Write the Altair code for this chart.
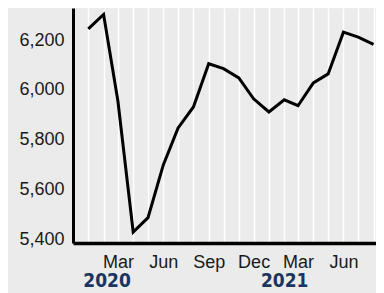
import altair as alt
import pandas as pd

months = pd.date_range("2020-01-01", "2021-08-01", freq="MS")
values = [6245, 6303, 5955, 5428, 5486, 5698, 5847, 5931, 6105, 6085, 6048, 5964,
          5911, 5960, 5936, 6028, 6064, 6232, 6212, 6183]
year_labels = ["2020", "2021"]
year_pos = pd.to_datetime(["2020-02-08", "2021-02-02"])

df = pd.DataFrame({"date": months, "value": values})
ydf = pd.DataFrame({"date": year_pos, "label": year_labels})

BG = "#ebebeb"
xscale = alt.Scale(domain=[alt.DateTime(year=2019, month=12, date=1),
                           alt.DateTime(year=2021, month=8, date=6)])
yscale = alt.Scale(domain=[5384, 6329], nice=False, zero=False)

line = alt.Chart(df).mark_line(color="black", strokeWidth=3, clip=False).encode(
    x=alt.X("date:T", scale=xscale, title=None,
            axis=alt.Axis(tickCount={"interval": "month", "step": 1},
                          labelExpr="(month(datum.value) % 3 == 2) && (year(datum.value) >= 2020) ? timeFormat(datum.value, '%b') : ''",
                          labelOverlap=False, labelFlush=False,
                          grid=True, gridColor="white", gridWidth=1.5,
                          ticks=False, domainColor="black", domainWidth=3.5,
                          labelFont="Liberation Sans", labelFontSize=18,
                          labelColor="#1a1a1a", labelPadding=10, labelBaseline="top")),
    y=alt.Y("value:Q", scale=yscale, title=None,
            axis=alt.Axis(values=[5400, 5600, 5800, 6000, 6200], format=",.0f",
                          grid=False, ticks=False, domainColor="black", domainWidth=3,
                          labelFont="Liberation Sans", labelFontSize=18,
                          labelColor="#1a1a1a", labelPadding=9)),
)

years = alt.Chart(ydf).mark_text(
    font="DejaVu Sans Condensed, Roboto", fontWeight="bold",
    fontSize=19, color="#1a3560", baseline="middle", align="center"
).encode(
    x=alt.X("date:T", scale=xscale),
    y=alt.value(273),
    text="label:N",
)

chart = alt.layer(line, years).properties(
    width=303, height=235,
    background=BG,
    padding={"left": 65, "top": 0, "right": 0, "bottom": 50},
    autosize=alt.AutoSizeParams(type="none"),
).configure_view(stroke=None, fill=BG)

chart.save("out.html", embed_options={"renderer": "svg", "actions": False})
